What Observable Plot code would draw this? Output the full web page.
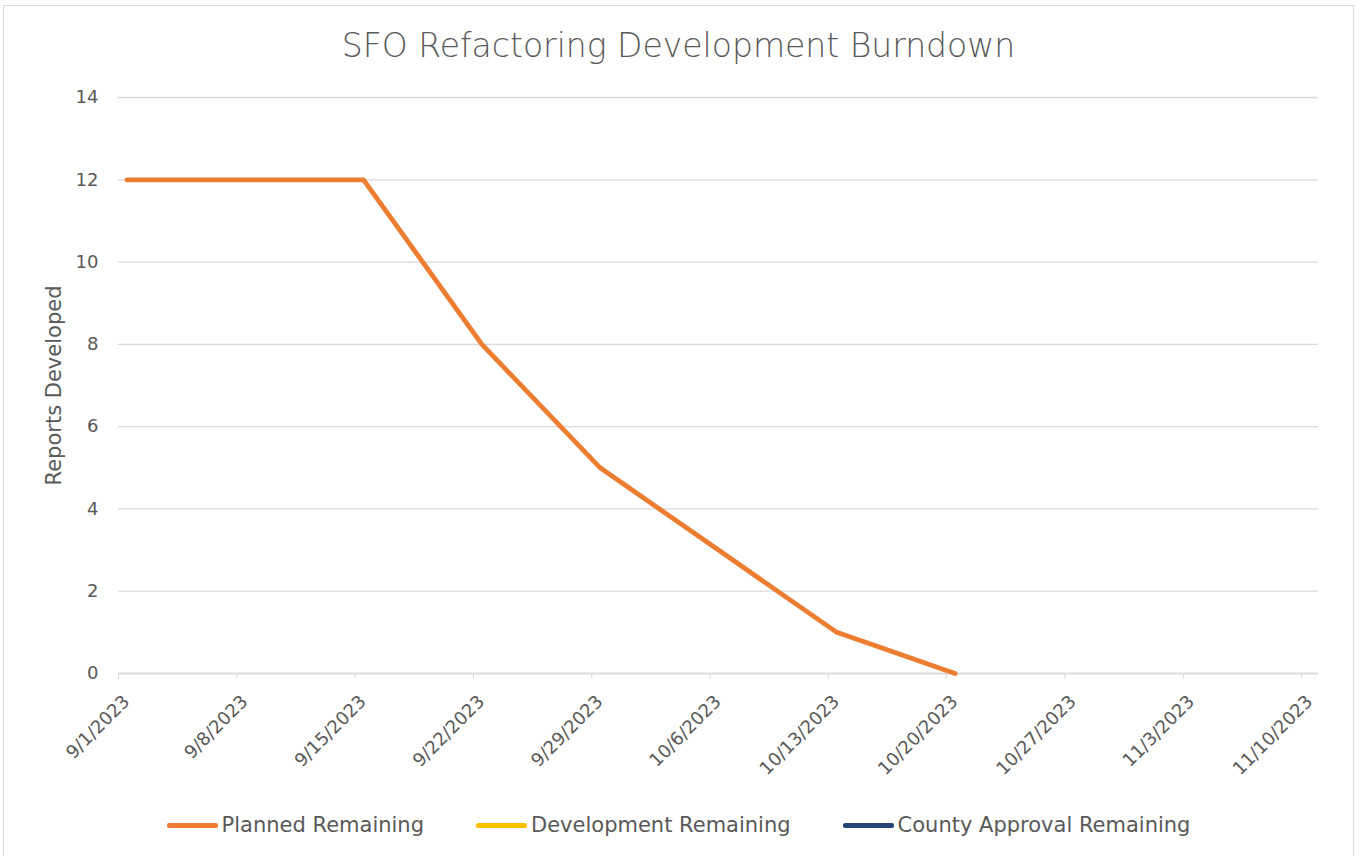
<!DOCTYPE html>
<html>
<head>
<meta charset="utf-8">
<script src="https://cdn.jsdelivr.net/npm/d3@7"></script>
<script src="https://cdn.jsdelivr.net/npm/@observablehq/plot@0.6"></script>
<style>
  html, body { margin: 0; padding: 0; background: #fff; }
  body { font-family: "DejaVu Sans", sans-serif; color: #595959; }
  #frame { position: absolute; left: 3px; top: 5px; width: 1349px; height: 860px; border: 1px solid #d9d9d9; background: #fff; }
  #title { height: 76px; line-height: 80px; text-align: center; font-size: 33px; font-weight: 300; color: #595959; }
  #legend { display: flex; justify-content: center; align-items: center; gap: 52px; padding-top: 31px; font-size: 21px; line-height: 24px; color: #595959; }
  .item { display: flex; align-items: center; }
  .sw { width: 51px; height: 5px; border-radius: 2px; margin-right: 4px; }
</style>
</head>
<body>
<div id="frame">
  <div id="title"></div>
  <div id="chart"></div>
  <div id="legend"></div>
</div>
<script>
// ---- data ----
const chartTitle = "SFO Refactoring Development Burndown";
const yLabel = "Reports Developed";
const dates = ["2023-09-01", "2023-09-08", "2023-09-15", "2023-09-22", "2023-09-29", "2023-10-06", "2023-10-13", "2023-10-20"];
const plannedRemaining = [12, 12, 12, 8, 5, 3, 1, 0];
const developmentRemaining = []; // no values drawn in the reference
const countyApprovalRemaining = []; // no values drawn in the reference
const seriesNames = ["Planned Remaining", "Development Remaining", "County Approval Remaining"];
const seriesColors = ["#ED7D31", "#FFC000", "#264478"];
const xTickLabels = ["2023-09-01", "2023-09-08", "2023-09-15", "2023-09-22", "2023-09-29", "2023-10-06", "2023-10-13", "2023-10-20", "2023-10-27", "2023-11-03", "2023-11-10"];
const xDomain = ["2023-09-01", "2023-11-11"];
const yTicks = [0, 2, 4, 6, 8, 10, 12, 14];

// ---- build ----
document.getElementById("title").textContent = chartTitle;

const seriesValues = [plannedRemaining, developmentRemaining, countyApprovalRemaining];
const rows = [];
seriesNames.forEach((name, i) => {
  seriesValues[i].forEach((v, j) => {
    // Excel date axis puts each point in the middle of its day
    rows.push({series: name, date: new Date(dates[j] + "T12:00:00Z"), value: v});
  });
});

const fmt = d3.utcFormat("%-m/%-d/%Y");
const xTicks = xTickLabels.map(d => new Date(d + "T00:00:00Z"));

const chart = Plot.plot({
  width: 1349,
  height: 700,
  marginLeft: 114,
  marginRight: 35,
  marginTop: 15,
  marginBottom: 109,
  style: {fontFamily: "'DejaVu Sans', sans-serif", color: "#595959", background: "#fff"},
  x: {type: "utc", domain: xDomain.map(d => new Date(d + "T00:00:00Z"))},
  y: {domain: [0, 14]},
  color: {domain: seriesNames, range: seriesColors},
  marks: [
    Plot.gridY(yTicks, {stroke: "#d9d9d9", strokeOpacity: 1, strokeWidth: 1.3}),
    Plot.ruleY([0], {stroke: "#d9d9d9", strokeWidth: 1.6}),
    Plot.axisY(yTicks, {
      tickSize: 0, tickPadding: 20, fontSize: 18, fill: "#595959", label: null
    }),
    Plot.axisY({
      ticks: [], tickSize: 0, fontSize: 21, fill: "#595959",
      label: yLabel, labelAnchor: "center", labelArrow: "none", labelOffset: 72
    }),
    // tick marks
    Plot.axisX(xTicks, {
      tickFormat: () => "", tickSize: 6, stroke: "#d9d9d9", strokeOpacity: 1, label: null
    }),
    // rotated tick labels
    Plot.axisX(xTicks, {
      tickFormat: fmt, tickRotate: -45, tickSize: 0, tickPadding: 25, dx: 8,
      fontSize: 18, fill: "#595959", label: null
    }),
    Plot.line(rows, {x: "date", y: "value", z: "series", stroke: "series", strokeWidth: 4.8, strokeLinejoin: "round", strokeLinecap: "round"})
  ]
});
document.getElementById("chart").appendChild(chart);

// ---- legend ----
const legend = document.getElementById("legend");
seriesNames.forEach((name, i) => {
  const item = document.createElement("div");
  item.className = "item";
  const sw = document.createElement("div");
  sw.className = "sw";
  sw.style.background = seriesColors[i];
  const t = document.createElement("span");
  t.textContent = name;
  item.appendChild(sw);
  item.appendChild(t);
  legend.appendChild(item);
});
</script>
</body>
</html>
